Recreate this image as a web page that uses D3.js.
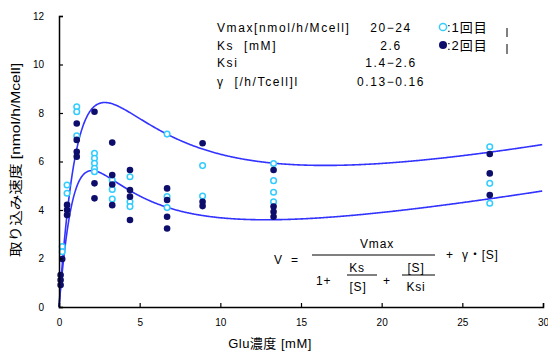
<!DOCTYPE html>
<html>
<head>
<meta charset="utf-8">
<script src="https://cdn.jsdelivr.net/npm/d3@7"></script>
<style>
  html, body { margin: 0; padding: 0; background: #fff; }
  svg { display: block; }
  text { font-family: "Liberation Sans", "Noto Sans CJK JP", sans-serif; fill: #000; white-space: pre; }
</style>
</head>
<body>
<svg id="chart" width="548" height="356"></svg>
<script>
// Glucose concentrations [mM] used in the uptake runs
const concentrations = [0.1, 0.2, 0.5, 1.1, 2.2, 3.3, 4.4, 6.7, 8.9, 13.3, 26.7];

// Uptake rate [nmol/h/Mcell], 1st run (open markers), one list per concentration
const run1Values = [
  [],
  [2.49, 2.28],
  [5.03, 4.69],
  [8.26, 8.05, 7.06],
  [6.34, 6.13, 5.93, 5.72, 5.58],
  [5.24, 4.85, 4.45],
  [5.37, 4.34, 4.14],
  [7.13, 4.55, 4.1],
  [5.83, 4.58],
  [5.92, 5.21, 4.73, 4.34],
  [6.61, 5.10, 4.28]
];

// Uptake rate [nmol/h/Mcell], 2nd run (filled markers)
const run2Values = [
  [1.32, 1.11, 0.91],
  [1.98],
  [4.21, 4.0, 3.79],
  [7.57, 6.89, 6.40, 6.2],
  [8.05, 5.10, 4.48],
  [6.78, 5.44, 5.05, 4.2],
  [5.65, 4.82, 4.55, 3.59],
  [4.89, 4.41, 3.72, 3.24],
  [6.75, 4.34, 4.16],
  [5.65, 4.14, 3.93, 3.72],
  [6.31, 5.51, 4.62]
];

// Fitted substrate-inhibition model parameters (upper fit, lower fit)
const fitVmax = [24, 20];
const fitKs = [2.6, 2.6];
const fitKsi = [2.6, 1.4];
const fitGamma = [0.16, 0.13];

// Parameter table rows and legend labels
const paramNames = ["Vmax[nmol/h/Mcell]", "Ks  [mM]", "Ksi", "γ  [/h/Tcell]l"];
const paramValues = ["20−24", "2.6", "1.4−2.6", "0.13−0.16"];
const legendLabels = [":1回目", ":2回目"];

const xTicks = [0, 5, 10, 15, 20, 25, 30];
const yTicks = [0, 2, 4, 6, 8, 10, 12];

const svg = d3.select("#chart");
const x = d3.scaleLinear().domain([0, 30]).range([59, 543]);
const y = d3.scaleLinear().domain([0, 12]).range([307, 16]);

const openColor = "#33ccff";
const fillColor = "#0d0d6b";
const lineColor = "#3333ff";

// Fit curves
const model = i => s => fitVmax[i] / (1 + fitKs[i] / s + s / fitKsi[i]) + fitGamma[i] * s;
const sGrid = d3.range(0.001, 30.0001, 0.05);
const line = d3.line().x(d => x(d[0])).y(d => y(d[1]));
[0, 1].forEach(i => {
  const f = model(i);
  svg.append("path")
    .datum([[0, 0]].concat(sGrid.map(s => [s, f(s)])))
    .attr("d", line)
    .attr("fill", "none")
    .attr("stroke", lineColor)
    .attr("stroke-width", 1.6);
});

// Data points
const flatten = vals => vals.flatMap((col, i) => col.map(v => [concentrations[i], v]));
svg.append("g").selectAll("circle").data(flatten(run1Values)).join("circle")
  .attr("cx", d => x(d[0])).attr("cy", d => y(d[1])).attr("r", 2.8)
  .attr("fill", "#fff").attr("stroke", openColor).attr("stroke-width", 1.5);
svg.append("g").selectAll("circle").data(flatten(run2Values)).join("circle")
  .attr("cx", d => x(d[0])).attr("cy", d => y(d[1])).attr("r", 3.3)
  .attr("fill", fillColor);

// Axes
const xAxis = d3.axisBottom(x).tickValues(xTicks).tickSize(-4).tickPadding(12).tickFormat(d3.format("d"));
const yAxis = d3.axisLeft(y).tickValues(yTicks).tickSize(-4).tickPadding(15).tickFormat(d3.format("d"));
const gx = svg.append("g").attr("transform", "translate(0,307)").call(xAxis);
const gy = svg.append("g").attr("transform", "translate(59,0)").call(yAxis);
[gx, gy].forEach(g => {
  g.select(".domain").attr("stroke", "#000").attr("stroke-width", 1.5);
  g.selectAll(".tick line").attr("stroke", "#000").attr("stroke-width", 1.2);
  g.selectAll(".tick text").attr("font-size", 10).attr("font-family", "Liberation Sans, sans-serif").attr("fill", "#000");
});

// Axis titles
svg.append("text").attr("x", 270).attr("y", 348).attr("text-anchor", "middle")
  .attr("font-size", 13).attr("letter-spacing", 0.5).text("Glu濃度 [mM]");
svg.append("text").attr("transform", "translate(20,160) rotate(-90)").attr("text-anchor", "middle")
  .attr("font-size", 13).attr("textLength", 194).attr("lengthAdjust", "spacingAndGlyphs")
  .text("取り込み速度 [nmol/h/Mcell]");

// Parameter table
const rowY = [32, 50, 67, 86];
const valueX = 391;
paramNames.forEach((t, i) => {
  svg.append("text").attr("x", 217).attr("y", rowY[i]).attr("font-size", 12)
    .attr("letter-spacing", 1.6).text(t);
});
paramValues.forEach((t, i) => {
  svg.append("text").attr("x", valueX).attr("y", rowY[i]).attr("text-anchor", "middle")
    .attr("font-size", 12).attr("letter-spacing", 1.6).text(t);
});

// Legend
svg.append("circle").attr("cx", 443).attr("cy", 27).attr("r", 3.6)
  .attr("fill", "#fff").attr("stroke", openColor).attr("stroke-width", 1.5);
svg.append("circle").attr("cx", 443).attr("cy", 45).attr("r", 4).attr("fill", fillColor);
legendLabels.forEach((t, i) => {
  svg.append("text").attr("x", 447).attr("y", [32, 50][i]).attr("font-size", 13)
    .attr("letter-spacing", 1).text(t);
});
[[28, 37], [44, 54]].forEach(([a, b]) => {
  svg.append("line").attr("x1", 507).attr("x2", 507).attr("y1", a).attr("y2", b)
    .attr("stroke", "#000").attr("stroke-width", 1);
});

// Model formula
const eq = svg.append("g").attr("font-size", 12).attr("letter-spacing", 0.8);
eq.append("text").attr("x", 274).attr("y", 264).text("V  =");
eq.append("text").attr("x", 377).attr("y", 248).attr("text-anchor", "middle").text("Vmax");
eq.append("line").attr("x1", 312).attr("x2", 435).attr("y1", 255).attr("y2", 255).attr("stroke", "#000").attr("stroke-width", 1);
eq.append("text").attr("x", 446).attr("y", 259).text("+  γ・[S]");
eq.append("text").attr("x", 316).attr("y", 285).text("1+");
eq.append("text").attr("x", 357).attr("y", 272).attr("text-anchor", "middle").text("Ks");
eq.append("line").attr("x1", 347).attr("x2", 377).attr("y1", 275).attr("y2", 275).attr("stroke", "#000").attr("stroke-width", 1);
eq.append("text").attr("x", 358).attr("y", 291).attr("text-anchor", "middle").text("[S]");
eq.append("text").attr("x", 383).attr("y", 285).text("+");
eq.append("text").attr("x", 416).attr("y", 272).attr("text-anchor", "middle").text("[S]");
eq.append("line").attr("x1", 402).attr("x2", 435).attr("y1", 275).attr("y2", 275).attr("stroke", "#000").attr("stroke-width", 1);
eq.append("text").attr("x", 416).attr("y", 291).attr("text-anchor", "middle").text("Ksi");
</script>
</body>
</html>
